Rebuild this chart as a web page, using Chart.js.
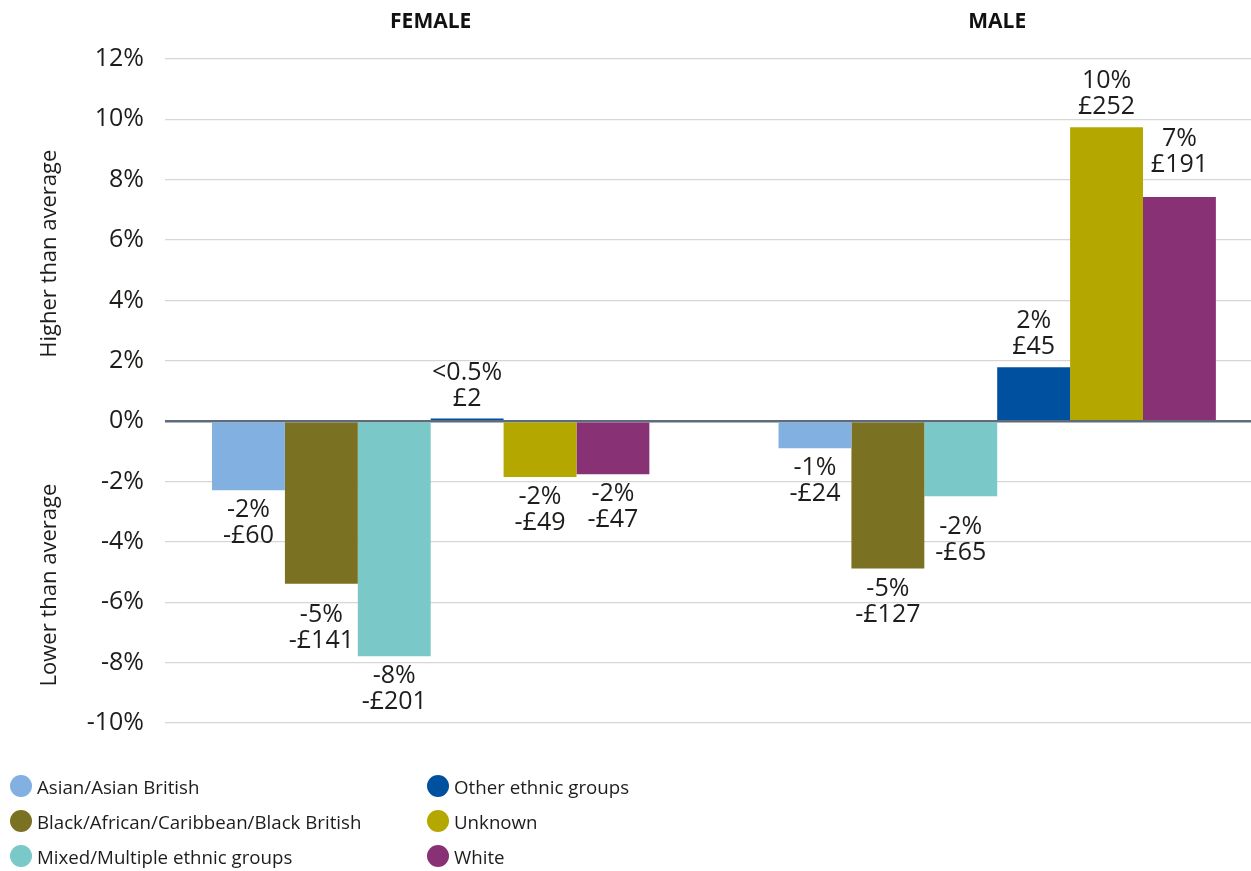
<!DOCTYPE html>
<html>
<head>
<meta charset="utf-8">
<script src="https://cdn.jsdelivr.net/npm/chart.js@4"></script>
<style>
  html, body { margin: 0; padding: 0; background: #fff; }
  #wrap { position: relative; width: 1251px; height: 871px; font-family: 'Open Sans', sans-serif; }
  #payGap { position: absolute; left: 0; top: 0; }
  .lg-item { position: absolute; display: flex; align-items: center; height: 24px; font-size: 18.7px; color: #1d1d1b; white-space: nowrap; }
  .lg-dot { width: 22px; height: 22px; border-radius: 50%; margin-right: 5px; }
</style>
</head>
<body>
<div id="wrap">
  <canvas id="payGap" width="1251" height="871"></canvas>
  <div id="legend"></div>
</div>
<script>
// ── Data ──
const GROUPS = ['FEMALE', 'MALE'];

const SERIES = [
  'Asian/Asian British',
  'Black/African/Caribbean/Black British',
  'Mixed/Multiple ethnic groups',
  'Other ethnic groups',
  'Unknown',
  'White',
];

// gap to average pay, % (female, male)
const ASIAN_PCT   = [-2.29, -0.90];
const BLACK_PCT   = [-5.39, -4.88];
const MIXED_PCT   = [-7.79, -2.49];
const OTHER_PCT   = [ 0.09,  1.79];
const UNKNOWN_PCT = [-1.85,  9.74];
const WHITE_PCT   = [-1.76,  7.43];

// gap to average pay, £ (female, male)
const ASIAN_GBP   = [-60,  -24];
const BLACK_GBP   = [-141, -127];
const MIXED_GBP   = [-201, -65];
const OTHER_GBP   = [2,    45];
const UNKNOWN_GBP = [-49,  252];
const WHITE_GBP   = [-47,  191];

const Y_TICKS = [-10, -8, -6, -4, -2, 0, 2, 4, 6, 8, 10, 12];

const PCT = [ASIAN_PCT, BLACK_PCT, MIXED_PCT, OTHER_PCT, UNKNOWN_PCT, WHITE_PCT];
const GBP = [ASIAN_GBP, BLACK_GBP, MIXED_GBP, OTHER_GBP, UNKNOWN_GBP, WHITE_GBP];
const COLORS = ['#82b0e0', '#7a7123', '#7ac8c8', '#0050a0', '#b4a700', '#883275'];

const INK = '#1d1d1b';
const FONT = "'Open Sans', sans-serif";

// ── Label helpers ──
function pctText(v) {
  if (Math.abs(v) < 0.5) return '<0.5%';
  return Math.round(v) + '%';
}
function gbpText(v) {
  return (v < 0 ? '-' : '') + '£' + Math.abs(v);
}

// two-line value labels beyond the end of each bar
const valueLabels = {
  id: 'valueLabels',
  afterDatasetsDraw(chart) {
    const ctx = chart.ctx;
    const lineGap = 26;
    // a few labels sit further out from their bars
    const pushedOut = { '1-0': 11, '2-1': 11, '5-1': 12 };
    ctx.save();
    ctx.font = `25px ${FONT}`;
    ctx.fillStyle = INK;
    ctx.textAlign = 'center';
    ctx.textBaseline = 'middle';
    chart.data.datasets.forEach((ds, di) => {
      chart.getDatasetMeta(di).data.forEach((bar, i) => {
        const v = PCT[di][i];
        const gap = 20 + (pushedOut[di + '-' + i] || 0);
        const a = pctText(v), b = gbpText(GBP[di][i]);
        if (v >= 0) {
          ctx.fillText(b, bar.x, bar.y - gap);
          ctx.fillText(a, bar.x, bar.y - gap - lineGap);
        } else {
          ctx.fillText(a, bar.x, bar.y + gap);
          ctx.fillText(b, bar.x, bar.y + gap + lineGap);
        }
      });
    });
    ctx.restore();
  }
};

// side captions for the positive and negative halves of the y axis
const sideCaptions = {
  id: 'sideCaptions',
  afterDraw(chart) {
    const ctx = chart.ctx;
    const y = chart.scales.y;
    ctx.save();
    ctx.font = `22px ${FONT}`;
    ctx.fillStyle = INK;
    ctx.textAlign = 'center';
    ctx.textBaseline = 'middle';
    [['Higher than average', 5.55], ['Lower than average', -5.43]].forEach(([t, v]) => {
      ctx.save();
      ctx.translate(50, y.getPixelForValue(v));
      ctx.rotate(-Math.PI / 2);
      ctx.fillText(t, 0, 0);
      ctx.restore();
    });
    ctx.restore();
  }
};

// ── Chart ──
function buildChart() {
  const ctx = document.getElementById('payGap').getContext('2d');
  new Chart(ctx, {
    type: 'bar',
    data: {
      datasets: SERIES.map((name, di) => ({
        label: name,
        data: PCT[di].map((v, i) => ({ x: i, y: v })),
        backgroundColor: COLORS[di],
        borderWidth: 0,
        categoryPercentage: 0.772,
        barPercentage: 1,
      })),
    },
    options: {
      responsive: false,
      animation: false,
      devicePixelRatio: 1,
      layout: { padding: { top: 0, right: 0, bottom: 148, left: 0 } },
      plugins: {
        legend: { display: false },
        tooltip: { enabled: false },
      },
      scales: {
        x: {
          type: 'linear',
          position: 'top',
          offset: false,
          min: -0.469,
          max: 1.448,
          afterBuildTicks: s => { s.ticks = GROUPS.map((g, i) => ({ value: i })); },
          afterFit: s => { s.height = 59; },
          grid: { display: false, drawTicks: false },
          border: { display: false },
          ticks: {
            padding: 24,
            autoSkip: false,
            maxRotation: 0,
            color: '#111',
            font: { family: FONT, size: 21, weight: 'bold' },
            callback: (v, i) => GROUPS[i],
          },
        },
        y: {
          min: Y_TICKS[0],
          max: Y_TICKS[Y_TICKS.length - 1],
          afterBuildTicks: s => { s.ticks = Y_TICKS.map(v => ({ value: v })); },
          afterFit: s => { s.width = 165; },
          border: { display: false },
          grid: {
            drawTicks: false,
            color: c => c.tick && c.tick.value === 0 ? '#5d6b7a' : '#d6d6d6',
            lineWidth: c => c.tick && c.tick.value === 0 ? 2.5 : 1.2,
          },
          ticks: {
            padding: 21,
            color: INK,
            font: { family: FONT, size: 25 },
            callback: v => v + '%',
          },
        },
      },
    },
    plugins: [valueLabels, sideCaptions],
  });
}

// ── Legend (two columns, filled top to bottom) ──
function buildLegend() {
  const box = document.getElementById('legend');
  const colX = [10, 427];
  const rowY = [774, 809, 844];
  SERIES.forEach((name, i) => {
    const item = document.createElement('div');
    item.className = 'lg-item';
    item.style.left = colX[Math.floor(i / 3)] + 'px';
    item.style.top = rowY[i % 3] + 'px';
    item.innerHTML = `<span class="lg-dot" style="background:${COLORS[i]}"></span>${name}`;
    box.appendChild(item);
  });
}

buildChart();
buildLegend();
</script>
</body>
</html>
